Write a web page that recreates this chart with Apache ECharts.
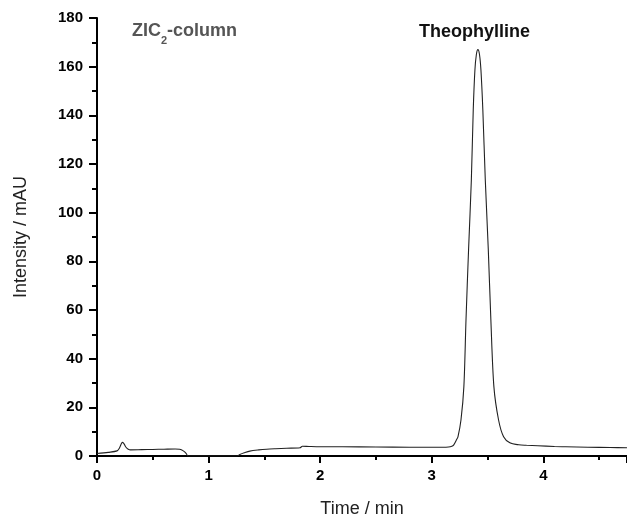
<!DOCTYPE html>
<html>
<head>
<meta charset="utf-8">
<script src="https://cdn.jsdelivr.net/npm/echarts@6/dist/echarts.min.js"></script>
<style>html,body{margin:0;padding:0;background:#fff}#c{width:627px;height:516px}</style>
</head>
<body>
<div id="c"></div>
<script>
const timeMin = [0.00,0.10,0.18,0.20,0.22,0.23,0.245,0.26,0.28,0.30,0.40,0.50,0.60,0.70,0.74,0.76,0.78,0.80,0.815,0.90,1.00,1.10,1.20,1.256,1.28,1.32,1.37,1.45,1.52,1.60,1.70,1.82,1.84,1.90,2.00,2.20,2.50,2.80,3.00,3.10,3.15,3.18,3.196,3.22,3.235,3.262,3.288,3.307,3.330,3.355,3.372,3.387,3.400,3.414,3.428,3.441,3.458,3.480,3.507,3.530,3.557,3.599,3.644,3.70,3.78,3.85,3.95,4.10,4.20,4.40,4.60,4.75];
const intensity = [1.0,1.5,2.1,3.2,5.2,5.6,4.8,3.6,2.8,2.5,2.6,2.7,2.8,2.9,2.8,2.5,1.9,1.0,0.0,0,0,0,0,0,0.6,1.3,2.0,2.5,2.8,3.0,3.2,3.4,4.0,3.9,3.8,3.8,3.7,3.6,3.6,3.6,3.7,4.0,4.5,6.5,7.9,14.8,28.5,55.9,84.7,113.4,142.2,158.6,165,167,165,158.6,142.2,113.4,84.7,55.9,28.5,14.8,7.9,5.4,4.6,4.4,4.2,3.9,3.8,3.6,3.5,3.4];
const xTicks = [0,1,2,3,4];
const yTicks = [0,20,40,60,80,100,120,140,160,180];
const peakLabel = 'Theophylline';
const columnLabel = ['ZIC','2','-column'];

const chart = echarts.init(document.getElementById('c'), null, {renderer:'canvas'});
const font = '"Liberation Sans", Arial, sans-serif';
chart.setOption({
  animation:false,
  backgroundColor:'#fff',
  grid:{left:97,right:0,top:18,bottom:60,containLabel:false,outerBoundsMode:'none'},
  title:[
    {text:'{a|'+columnLabel[0]+'}{s|'+columnLabel[1]+'}{a|'+columnLabel[2]+'}',left:127,top:17,
     textStyle:{rich:{a:{fontFamily:font,fontWeight:'bold',fontSize:18,color:'#555',lineHeight:22,verticalAlign:'top'},
                      s:{fontFamily:font,fontWeight:'bold',fontSize:11,color:'#555',lineHeight:22,verticalAlign:'top',padding:[13,0,0,0]}}}},
    {text:peakLabel,left:414,top:18,textStyle:{fontFamily:font,fontWeight:'bold',fontSize:18,color:'#111'}}
  ],
  xAxis:{type:'value',min:0,max:4.75,interval:1,
    name:'Time / min',nameLocation:'middle',nameGap:44,
    nameTextStyle:{fontFamily:font,fontSize:18,color:'#222'},
    axisLine:{show:true,lineStyle:{color:'#000',width:2}},
    axisTick:{show:true,inside:false,length:7,lineStyle:{color:'#000',width:2}},
    minorTick:{show:true,splitNumber:2,length:4,lineStyle:{color:'#000',width:2}},
    splitLine:{show:false},
    axisLabel:{margin:12,fontFamily:font,fontWeight:'bold',fontSize:15,color:'#000',
      formatter:v=>xTicks.includes(v)?String(v):''}},
  yAxis:{type:'value',min:0,max:180,interval:20,
    name:'Intensity / mAU',nameLocation:'middle',nameGap:67,nameRotate:90,
    nameTextStyle:{fontFamily:font,fontSize:18,color:'#222'},
    axisLine:{show:true,lineStyle:{color:'#000',width:2}},
    axisTick:{show:true,inside:false,length:8,lineStyle:{color:'#000',width:2}},
    minorTick:{show:true,splitNumber:2,length:5,lineStyle:{color:'#000',width:2}},
    splitLine:{show:false},
    axisLabel:{margin:14,fontFamily:font,fontWeight:'bold',fontSize:15,color:'#000',
      formatter:v=>yTicks.includes(v)?String(v):''}},
  series:[{type:'line',data:timeMin.map((t,i)=>[t,intensity[i]]),showSymbol:false,smooth:0.3,
    lineStyle:{color:'#222',width:1.1},z:1}]
});
</script>
</body>
</html>
